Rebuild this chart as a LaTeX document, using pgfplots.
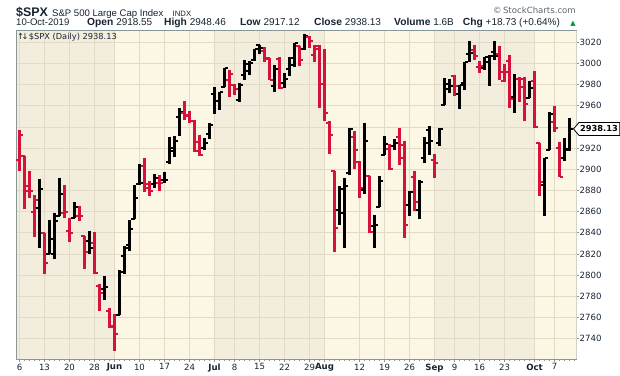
\documentclass[border=0pt]{standalone}
\usepackage{pgfplots}
\pgfplotsset{compat=1.18}
\usepackage{pgfplotstable}
\usepackage{fontspec}
\setmainfont{Liberation Sans}
\newfontfamily\dv{DejaVu Sans}
\definecolor{bandD}{RGB}{243,237,222}
\definecolor{bandL}{RGB}{252,246,228}
\definecolor{gridc}{RGB}{226,218,197}
\definecolor{axc}{RGB}{135,150,150}
\definecolor{upc}{RGB}{0,0,0}
\definecolor{dnc}{RGB}{215,18,58}
\definecolor{txt}{RGB}{22,36,50}
\definecolor{grn}{RGB}{0,150,60}
\pgfdeclareplotmark{otick}{\pgfpathmoveto{\pgfqpoint{-\pgfplotmarksize}{0pt}}\pgfpathlineto{\pgfqpoint{0pt}{0pt}}\pgfusepathqstroke}
\pgfdeclareplotmark{ctick}{\pgfpathmoveto{\pgfqpoint{0pt}{0pt}}\pgfpathlineto{\pgfqpoint{\pgfplotmarksize}{0pt}}\pgfusepathqstroke}

% rising bars (close above previous close)
\pgfplotstableread{
i o h l c
4 2863.10 2891.31 2825.39 2881.40
6 2820.12 2852.54 2820.12 2834.41
7 2820.38 2858.68 2815.08 2850.96
8 2855.80 2892.15 2855.80 2876.32
11 2854.02 2868.88 2854.02 2864.36
14 2832.41 2841.36 2820.19 2826.06
17 2786.94 2799.00 2776.74 2788.86
20 2762.64 2804.49 2762.64 2803.27
21 2818.09 2827.28 2800.92 2826.15
22 2828.51 2852.10 2822.45 2843.49
23 2852.87 2884.97 2852.87 2873.34
24 2885.83 2904.77 2885.51 2886.73
27 2886.24 2895.24 2881.99 2891.64
29 2889.75 2897.27 2887.30 2889.67
30 2906.71 2930.79 2905.44 2917.75
31 2920.55 2931.74 2911.43 2926.46
32 2949.60 2958.06 2931.50 2954.18
37 2919.66 2929.30 2918.57 2924.92
38 2932.94 2943.98 2929.05 2941.76
39 2971.41 2977.93 2952.22 2964.33
40 2964.66 2973.21 2955.92 2973.01
41 2978.08 2995.84 2977.96 2995.82
44 2965.52 2981.90 2963.44 2979.63
45 2989.30 3002.98 2984.62 2993.07
46 2999.62 3002.33 2988.80 2999.91
47 3003.36 3013.92 3001.87 3013.77
48 3017.80 3017.80 3008.77 3014.30
51 2978.87 2998.28 2973.09 2995.11
53 2981.93 2990.71 2976.65 2985.03
54 2994.74 3005.90 2988.56 3005.47
55 2998.77 3019.59 2996.82 3019.56
57 3013.25 3027.98 3012.59 3025.86
64 2861.18 2884.40 2847.42 2881.77
65 2858.65 2892.17 2825.71 2883.98
66 2896.21 2938.72 2894.47 2938.09
69 2880.72 2943.31 2877.05 2926.32
71 2846.20 2856.67 2825.51 2847.60
72 2864.74 2893.63 2864.74 2888.68
73 2913.48 2931.00 2913.48 2923.65
75 2922.04 2928.73 2917.91 2924.43
78 2866.70 2879.27 2856.00 2878.38
80 2861.28 2890.03 2853.05 2887.94
81 2910.37 2930.50 2905.67 2924.58
82 2937.09 2940.43 2913.32 2926.46
84 2924.67 2938.84 2921.86 2937.78
85 2960.60 2985.86 2960.60 2976.00
86 2980.33 2985.03 2972.51 2978.71
88 2971.01 2979.39 2957.01 2979.39
89 2981.41 3000.93 2975.31 3000.93
90 3009.08 3020.74 3000.92 3009.57
93 2995.67 3006.21 2993.73 3005.70
94 3001.50 3007.83 2978.57 3006.73
95 3010.36 3021.19 3003.16 3006.79
99 2968.35 2989.82 2952.86 2984.87
102 2967.07 2983.85 2967.07 2976.74
105 2885.38 2911.13 2855.94 2910.63
106 2918.56 2953.74 2918.56 2952.01
109 2911.10 2929.32 2907.41 2919.40
110 2918.55 2948.46 2917.12 2938.13
}\up

% falling bars (close below previous close)
\pgfplotstableread{
i o h l c
0 2908.89 2937.32 2898.21 2932.47
1 2913.03 2913.03 2862.60 2884.05
2 2879.61 2897.96 2873.28 2879.42
3 2859.84 2875.97 2836.40 2870.72
5 2840.19 2840.19 2801.43 2811.87
9 2858.60 2885.48 2854.23 2859.53
10 2841.94 2853.86 2831.29 2840.23
12 2856.06 2865.47 2851.11 2856.27
13 2836.70 2836.70 2805.49 2822.24
15 2830.03 2840.51 2801.58 2802.39
16 2790.25 2792.03 2766.06 2783.02
18 2766.15 2768.98 2750.52 2752.06
19 2751.53 2763.07 2728.81 2744.45
25 2903.27 2910.61 2878.53 2885.72
26 2882.73 2888.57 2874.68 2879.84
28 2886.82 2894.45 2879.62 2886.98
33 2952.71 2964.15 2946.87 2950.46
34 2951.42 2954.92 2944.05 2945.35
35 2945.78 2946.52 2916.01 2917.38
36 2926.07 2932.59 2912.99 2913.78
42 2984.25 2994.03 2967.97 2990.41
43 2979.77 2980.76 2970.09 2975.95
49 3012.13 3015.02 3001.15 3004.04
50 3005.10 3005.26 2984.25 2984.42
52 3004.26 3006.02 2975.86 2976.61
56 3016.26 3016.31 2997.24 3003.67
58 3024.47 3025.61 3014.30 3020.97
59 3007.66 3017.19 3000.94 3013.18
60 3016.22 3017.40 2958.08 2980.38
61 2980.32 3013.59 2945.23 2953.56
62 2943.90 2945.50 2914.11 2932.05
63 2898.07 2898.07 2822.12 2844.74
67 2930.51 2935.75 2900.15 2918.65
68 2907.07 2907.58 2873.14 2882.70
70 2894.15 2894.15 2839.64 2840.60
74 2919.01 2923.63 2899.60 2900.51
76 2930.94 2939.08 2904.51 2922.95
77 2911.07 2927.01 2834.97 2847.11
79 2893.14 2898.79 2860.59 2869.16
83 2909.01 2914.39 2891.85 2906.27
87 2988.43 2989.43 2969.39 2978.43
91 3012.21 3017.33 3002.90 3007.39
92 2996.41 3002.19 2990.67 2997.96
96 3008.42 3016.37 2984.68 2992.07
97 2983.50 2999.15 2982.23 2991.78
98 3002.43 3007.98 2957.73 2966.60
100 2985.73 2987.28 2963.71 2977.62
101 2985.47 2987.31 2945.53 2961.79
103 2983.69 2992.53 2938.70 2940.25
104 2924.78 2924.78 2874.93 2887.61
107 2944.23 2959.75 2935.68 2938.79
108 2920.40 2925.47 2892.66 2893.06
}\down

\begin{document}
\begin{tikzpicture}
\useasboundingbox (-16.5bp,-17bp) rectangle (603.5bp,359bp);
\fill[white] (-16.5bp,-17bp) rectangle (603.5bp,359bp);
\begin{axis}[
  at={(0,0)}, anchor=south west,
  scale only axis, width=560bp, height=328bp,
  xmin=-0.6, xmax=111.4,
  ymin=2720.9, ymax=3030.6,
  axis line style={axc, line width=1.1bp},
  xtick={0,5,10,15,19,24,29,34,39,43,48,53,58,61,68,73,78,83,87,92,97,103,107},
  xticklabels={6,13,20,28,\textbf{Jun},10,17,24,\textbf{Jul},8,15,22,29,\textbf{Aug},12,19,26,\textbf{Sep},9,16,23,\textbf{Oct},7},
  ytick={2740,2760,2780,2800,2820,2840,2860,2880,2900,2920,2940,2960,2980,3000,3020},
  yticklabels={2740,2760,2780,2800,2820,2840,2860,2880,2900,2920,,2960,2980,3000,3020},
  minor xtick={0,...,111},
  xtick pos=bottom, ytick pos=right, yticklabel pos=right,
  tick align=outside,
  major tick length=2.5bp, minor tick length=1.5bp,
  tick style={axc, line width=0.8bp},
  minor tick style={axc, line width=0.7bp},
  ticklabel style={font=\dv\fontsize{8.6}{10}\selectfont, text=txt},
  yticklabel style={anchor=west, inner sep=0pt, xshift=0.5bp},
  xticklabel style={anchor=north, inner sep=0pt, yshift=-2bp},
  /pgf/number format/assume math mode=true,
]
% month bands
\fill[bandD] (axis cs:-0.6,2720.9) rectangle (axis cs:19,3030.6);
\fill[bandL] (axis cs:19,2720.9) rectangle (axis cs:39,3030.6);
\fill[bandD] (axis cs:39,2720.9) rectangle (axis cs:61,3030.6);
\fill[bandL] (axis cs:61,2720.9) rectangle (axis cs:83,3030.6);
\fill[bandD] (axis cs:83,2720.9) rectangle (axis cs:103,3030.6);
\fill[bandL] (axis cs:103,2720.9) rectangle (axis cs:111.4,3030.6);
% grid
\pgfplotsinvokeforeach{2740,2760,2780,2800,2820,2840,2860,2880,2900,2920,2940,2960,2980,3000,3020}{
  \draw[gridc, line width=0.9bp] (axis cs:-0.6,#1) -- (axis cs:111.4,#1);
}
\pgfplotsinvokeforeach{0,5,10,15,19,24,29,34,39,43,48,53,58,61,68,73,78,83,87,92,97,103,107}{
  \draw[gridc, line width=0.9bp] (axis cs:#1,2720.9) -- (axis cs:#1,3030.6);
}

% high-low ranges (vertical segments from high down to low)
\addplot[draw=upc, line width=2.1bp, mark=none, quiver={u=0, v=\thisrow{l}-\thisrow{h}}]
  table[x=i, y=h] {\up};
\addplot[draw=dnc, line width=2.1bp, mark=none, quiver={u=0, v=\thisrow{l}-\thisrow{h}}]
  table[x=i, y=h] {\down};
% open / close ticks
\addplot[only marks, mark=otick, mark size=3.7bp, mark options={line width=2bp, draw=upc}] table[x=i, y=o] {\up};
\addplot[only marks, mark=ctick, mark size=3.7bp, mark options={line width=2bp, draw=upc}] table[x=i, y=c] {\up};
\addplot[only marks, mark=otick, mark size=3.7bp, mark options={line width=2bp, draw=dnc}] table[x=i, y=o] {\down};
\addplot[only marks, mark=ctick, mark size=3.7bp, mark options={line width=2bp, draw=dnc}] table[x=i, y=c] {\down};

\coordinate (pc) at (axis cs:111.4,2938.13);
\end{axis}

% last price flag
\draw[black, line width=0.8bp, fill=white] ([xshift=-3bp]pc) -- ([xshift=2.5bp,yshift=6.5bp]pc) -- ([xshift=43.2bp,yshift=6.5bp]pc) -- ([xshift=43.2bp,yshift=-6.5bp]pc) -- ([xshift=2.5bp,yshift=-6.5bp]pc) -- cycle;
\node[anchor=west, inner sep=0pt, text=black, font=\dv\bfseries\fontsize{8.3}{10}\selectfont] at ([xshift=3.5bp]pc) {2938.13};

% legend inside plot
\node[anchor=west, inner sep=0pt, text=txt, font=\dv\fontsize{8.3}{10}\selectfont] at (1bp,322bp) {\kern-0.5bp↑\kern-2.5bp↓\kern0.3bp\$SPX (Daily) 2938.13};

% header line 1
\node[anchor=base west, inner sep=0pt, text=txt] at (-0.5bp,342.3bp) {\fontsize{12.5}{14}\selectfont\bfseries \$SPX};
\node[anchor=base west, inner sep=0pt, text=txt] at (35.5bp,342.3bp) {\fontsize{9.6}{11}\selectfont S\&P 500 Large Cap Index};
\node[anchor=base west, inner sep=0pt, text=txt] at (156bp,342.3bp) {\fontsize{7.8}{9}\selectfont INDX};
\node[anchor=base east, inner sep=0pt, text=txt!70] at (559.5bp,345.7bp) {\dv\fontsize{8.6}{10}\selectfont \textcopyright\,StockCharts.com};

% header line 2
\node[anchor=base west, inner sep=0pt, text=txt] at (-0.5bp,333bp) {\fontsize{9.6}{11}\selectfont 10-Oct-2019};
\node[anchor=base west, inner sep=0pt, text=txt] at (70.5bp,333bp) {\fontsize{10.3}{11}\selectfont\bfseries Open \mdseries\fontsize{10}{11}\selectfont 2918.55};
\node[anchor=base west, inner sep=0pt, text=txt] at (147.5bp,333bp) {\fontsize{10.3}{11}\selectfont\bfseries High \mdseries\fontsize{10}{11}\selectfont 2948.46};
\node[anchor=base west, inner sep=0pt, text=txt] at (223.5bp,333bp) {\fontsize{10.3}{11}\selectfont\bfseries Low \mdseries\fontsize{10}{11}\selectfont 2917.12};
\node[anchor=base west, inner sep=0pt, text=txt] at (297.5bp,333bp) {\fontsize{10.3}{11}\selectfont\bfseries Close \mdseries\fontsize{10}{11}\selectfont 2938.13};
\node[anchor=base west, inner sep=0pt, text=txt] at (377.5bp,333bp) {\fontsize{10.3}{11}\selectfont\bfseries Volume \mdseries\fontsize{10}{11}\selectfont 1.6B};
\node[anchor=base west, inner sep=0pt, text=txt] at (446.2bp,333bp) {\fontsize{10.3}{11}\selectfont\bfseries Chg \mdseries\fontsize{10}{11}\selectfont +18.73 (+0.64\%)};
\node[anchor=base east, inner sep=0pt, text=grn] at (559.5bp,333.5bp) {\dv\fontsize{7}{8}\selectfont ▲};
\end{tikzpicture}
\end{document}
